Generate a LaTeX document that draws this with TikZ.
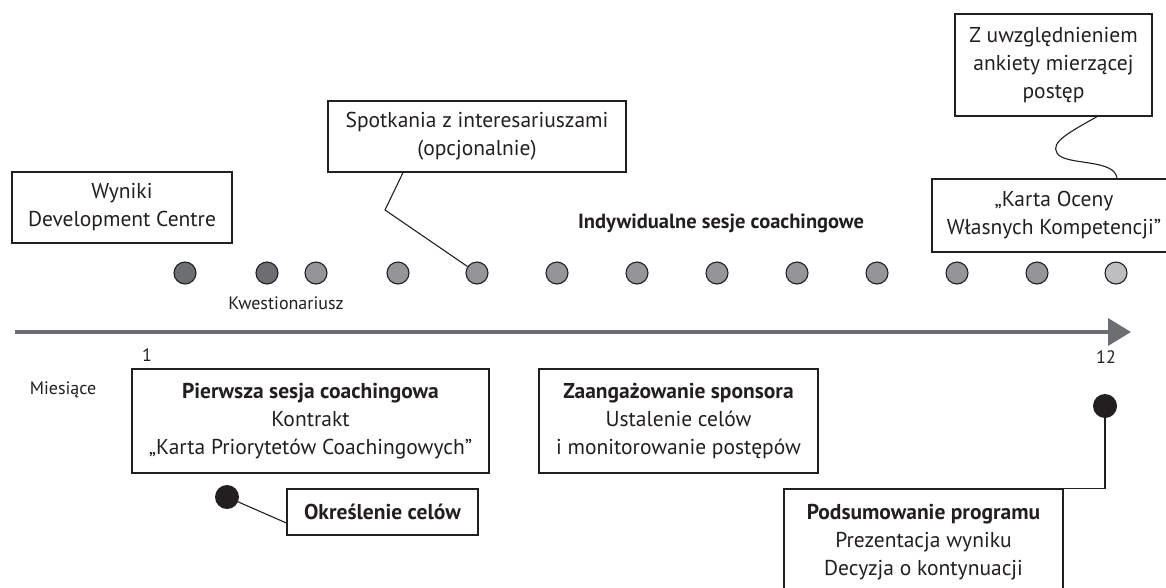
\documentclass[tikz,border=0pt]{standalone}
\usepackage{fontspec}
\setmainfont{PT Sans}
\usepackage{tikz}
\usetikzlibrary{arrows.meta,positioning}
\definecolor{axisGray}{HTML}{6D6E71}
\definecolor{dotDark}{HTML}{6D6E71}
\definecolor{dotMid}{HTML}{939598}
\definecolor{dotLight}{HTML}{BCBEC0}
\definecolor{edgeBlack}{HTML}{231F20}

\begin{document}
\begin{tikzpicture}[
            x=1pt, y=-1pt,
            infobox/.style={
                    rectangle,
                    draw=edgeBlack,
                    line width=1.2pt,
                    align=center,
                    text=edgeBlack,
                    inner sep=0pt,
                    font=\fontsize{21.5}{28}\selectfont
                },
            session/.style={
                    circle,
                    draw=edgeBlack,
                    line width=1.1pt,
                    minimum size=22pt,
                    inner sep=0pt
                },
            milestone/.style={
                    circle,
                    fill=edgeBlack,
                    minimum size=24pt,
                    inner sep=0pt
                },
            smalltext/.style={
                    text=edgeBlack,
                    font=\fontsize{18}{20}\selectfont
                },
            link/.style={
                    draw=edgeBlack,
                    line width=1.1pt
                },
            timeline/.style={
                    -{Triangle[length=23pt,width=27pt]},
                    line width=3.5pt,
                    draw=axisGray
                }
        ]
        \useasboundingbox (0,0) rectangle (1166,587);

        % Os czasu
        \coordinate (tstart) at (15,332);
        \coordinate (tend) at (1131,332);
        \draw[timeline] (tstart) -- (tend);
        \node[smalltext] (m1) at (147,355) {1};
        \node[smalltext] (m12) at (1106,357) {12};
        \node[smalltext] (months) at (63,390) {Miesiące};

        % Sesje
        \node[session, fill=dotDark] (d1) at (185,273) {};
        \node[session, fill=dotDark] (d2) at (267,273) {};
        \node[session, fill=dotMid] (d3) at (316,273) {};
        \foreach \i/\x in {4/398,5/477,6/557,7/637,8/717,9/797,10/877,11/957,12/1037}
            \node[session, fill=dotMid] (d\i) at (\x,273) {};
        \node[session, fill=dotLight] (d13) at (1116,273) {};
        \node[smalltext] (quest) at (286,303) {Kwestionariusz};
        \node[text=edgeBlack, font=\fontsize{20.5}{28}\selectfont\bfseries] (sessions) at (721,223) {Indywidualne sesje coachingowe};

        % Ramki nad osia
        \node[infobox, minimum width=220pt, minimum height=71pt] (wyniki) at (122,207.5) {Wyniki\\Development Centre};
        \node[infobox, minimum width=298pt, minimum height=71pt] (spotkania) at (477,136.5) {Spotkania z interesariuszami\\(opcjonalnie)};
        \node[infobox, minimum width=197pt, minimum height=102pt] (uwzgl) at (1053.5,65) {Z uwzględnieniem\\ankiety mierzącej\\postęp};
        \node[infobox, minimum width=244pt, minimum height=73pt] (karta) at (1054,215.5) {„Karta Oceny\\Własnych Kompetencji”};

        % Ramki pod osia
        \node[infobox, minimum width=357pt, minimum height=104pt] (pierwsza) at (310.5,421) {\textbf{Pierwsza sesja coachingowa}\\Kontrakt\\„Karta Priorytetów Coachingowych”};
        \node[infobox, minimum width=279pt, minimum height=104pt] (zaang) at (678.5,421) {\textbf{Zaangażowanie sponsora}\\Ustalenie celów\\i monitorowanie postępów};
        \node[infobox, minimum width=191pt, minimum height=46pt] (okreslenie) at (382.5,512) {\textbf{Określenie celów}};
        \node[infobox, minimum width=279pt, minimum height=106pt] (podsum) at (923.5,542) {\textbf{Podsumowanie programu}\\Prezentacja wyniku\\Decyzja o kontynuacji};
        \node[milestone] (goal) at (227,497) {};
        \node[milestone] (final) at (1105,406) {};

        % Polaczenia
        \coordinate (bend) at (385,210);
        \draw[link] ([xshift=-74pt]spotkania.south) -- (bend) -- (d5);
        \draw[link] ([xshift=43.5pt]uwzgl.south) .. controls (1070,132) and (1050,142) .. (1057,153)
            .. controls (1064,166) and (1115,158) .. ([xshift=63pt]karta.north);
        \draw[link] (goal) -- ([yshift=-11pt]okreslenie.west);
        \draw[link] (final) |- (podsum.north east);

    \end{tikzpicture}
\end{document}
